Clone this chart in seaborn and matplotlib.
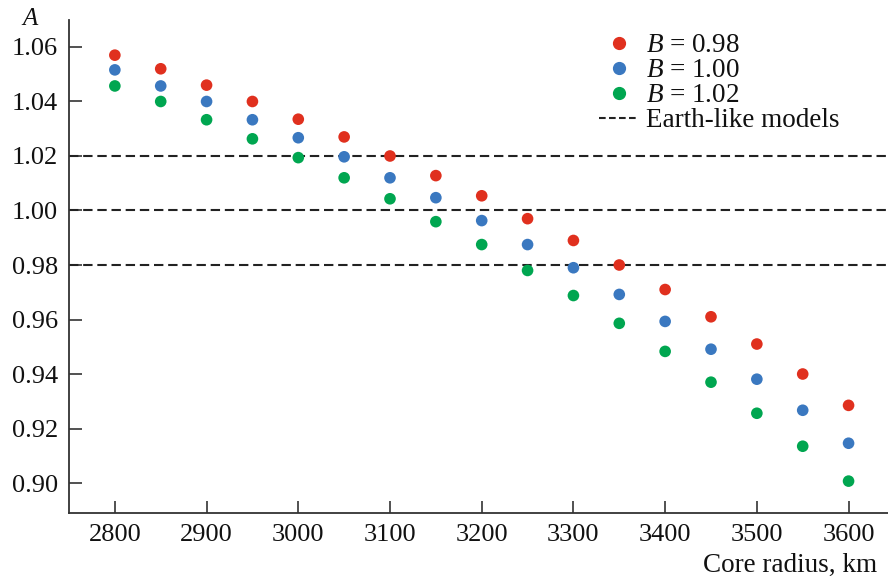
import numpy as np
import pandas as pd
import matplotlib
matplotlib.use("Agg")
import matplotlib.pyplot as plt
import seaborn as sns
from matplotlib.lines import Line2D

radius = [2800, 2850, 2900, 2950, 3000, 3050, 3100, 3150, 3200, 3250,
          3300, 3350, 3400, 3450, 3500, 3550, 3600]
a_b098 = [1.057, 1.052, 1.046, 1.040, 1.0335, 1.027, 1.020, 1.0128, 1.0054, 0.997,
          0.989, 0.980, 0.971, 0.961, 0.951, 0.940, 0.9285]
a_b100 = [1.0516, 1.0457, 1.040, 1.0333, 1.0267, 1.0197, 1.012, 1.0047, 0.9963, 0.9875,
          0.979, 0.9692, 0.9593, 0.9491, 0.9381, 0.9267, 0.9146]
a_b102 = [1.0457, 1.040, 1.0333, 1.0263, 1.0194, 1.012, 1.0043, 0.9959, 0.9875, 0.978,
          0.9688, 0.9586, 0.9483, 0.937, 0.9256, 0.9135, 0.9007]
series_labels = ["B = 0.98", "B = 1.00", "B = 1.02"]
legend_texts = [r"$B$ = 0.98", r"$B$ = 1.00", r"$B$ = 1.02"]
earth_like = [1.02, 1.00, 0.98]
xticks = [2800, 2900, 3000, 3100, 3200, 3300, 3400, 3500, 3600]
yticks = [0.90, 0.92, 0.94, 0.96, 0.98, 1.00, 1.02, 1.04, 1.06]
colors = ["#e0301e", "#3a78c0", "#00a650"]

df = pd.concat([
    pd.DataFrame({"r": radius, "A": vals, "B": lab})
    for vals, lab in zip([a_b098, a_b100, a_b102], series_labels)
])

sns.set_style("white")
plt.rcParams["font.family"] = ["Liberation Serif", "DejaVu Serif"]
plt.rcParams["mathtext.fontset"] = "custom"
plt.rcParams["mathtext.it"] = "Liberation Serif:italic"
plt.rcParams["mathtext.rm"] = "Liberation Serif"

fig = plt.figure(figsize=(8.88, 5.80), dpi=100)
ax = fig.add_axes([69/888, 1 - 513/580, (888-69)/888, (513-20)/580])

for y in earth_like:
    ax.axhline(y, color="#222222", linestyle=(0, (4.5, 2.3)), linewidth=1.5, zorder=1)

sns.scatterplot(data=df, x="r", y="A", hue="B", palette=colors, s=70,
                edgecolor="none", ax=ax, legend=False, zorder=3)

ax.set_xlim(2750, 3643)
ax.set_ylim(0.889, 1.0699)
ax.set_xticks(xticks)
ax.set_yticks(yticks)
ax.set_xticklabels([str(v) for v in xticks])
ax.set_yticklabels([f"{v:.2f}" for v in yticks])
ax.tick_params(bottom=True, left=True, top=False, right=False)
ax.tick_params(direction="in", length=9, width=1.2, labelsize=19, color="#333333",
               labelcolor="#111111")
ax.tick_params(axis="x", pad=8)
ax.tick_params(axis="y", pad=8)
for s in ["top", "right"]:
    ax.spines[s].set_visible(False)
for s in ["left", "bottom"]:
    ax.spines[s].set_color("#333333")
    ax.spines[s].set_linewidth(1.3)
ax.set_xlabel("")
ax.set_ylabel("")

fig.text(877/888, 1 - 565/580, "Core radius, km", ha="right", va="center",
         fontsize=19.5, color="#111111")
fig.text(30/888, 1 - 19/580, "A", ha="center", va="center", fontsize=18,
         style="italic", color="#111111")

handles = [Line2D([], [], marker="o", color=c, linestyle="none", markersize=8.5)
           for c in colors]
handles.append(Line2D([], [], color="#222222", linestyle=(0, (3.2, 1.6)), linewidth=1.5))
leg = ax.legend(handles, legend_texts + ["Earth-like models"], loc="upper left",
                bbox_to_anchor=(590/888, 1 - 24/580), bbox_transform=fig.transFigure,
                frameon=False, fontsize=19.5,
                handlelength=1.45, handletextpad=0.25, labelspacing=0.0,
                borderaxespad=0.0, borderpad=0.35)
for t in leg.get_texts():
    t.set_color("#111111")

fig.savefig("out.png", dpi=100)
